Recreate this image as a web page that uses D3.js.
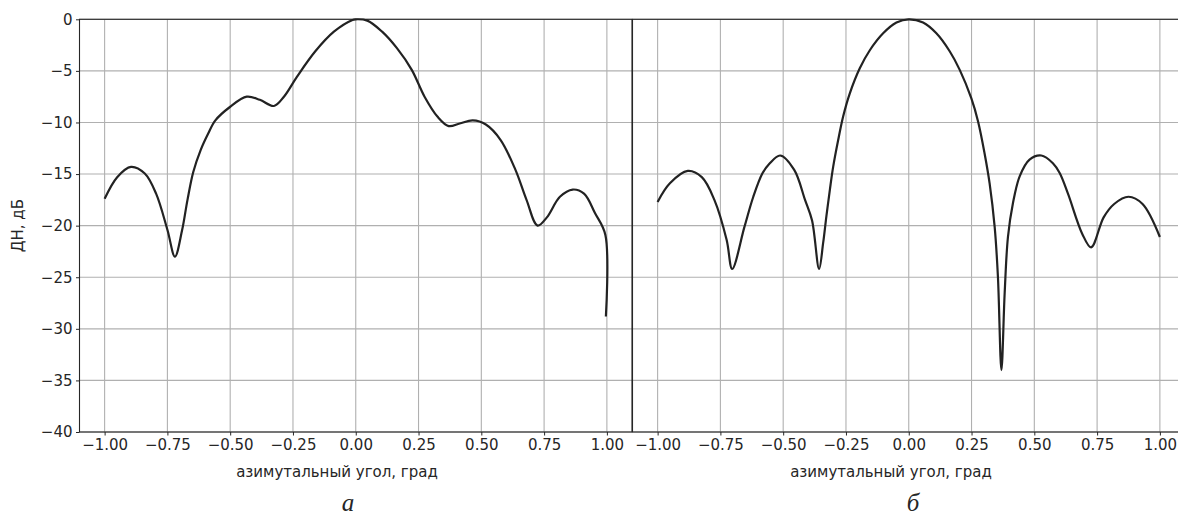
<!DOCTYPE html>
<html>
<head>
<meta charset="utf-8">
<script src="https://cdn.jsdelivr.net/npm/d3@7"></script>
<style>
  html, body { margin: 0; padding: 0; background: #fff; }
  svg { display: block; }
  text { font-family: "DejaVu Sans", sans-serif; fill: #262626; }
</style>
</head>
<body>
<svg id="chart" width="1178" height="516"></svg>
<script>
// ---------- data ----------
const xTicks = [-1.0, -0.75, -0.5, -0.25, 0.0, 0.25, 0.5, 0.75, 1.0];
const yTicks = [0, -5, -10, -15, -20, -25, -30, -35, -40];
const xLabel = "азимутальный угол, град";
const yLabel = "ДН, дБ";
const captions = ["а", "б"];

const leftX = [-1.0, -0.95, -0.895, -0.84, -0.795, -0.75, -0.72, -0.692, -0.67, -0.647, -0.618, -0.588, -0.559, -0.501, -0.434, -0.382, -0.326, -0.286, -0.235, -0.161, -0.087, -0.013, 0.0, 0.046, 0.105, 0.164, 0.223, 0.274, 0.326, 0.37, 0.414, 0.466, 0.518, 0.577, 0.636, 0.68, 0.724, 0.761, 0.813, 0.864, 0.909, 0.953, 0.994, 0.996];
const leftY = [-17.4, -15.3, -14.3, -14.95, -16.9, -20.4, -23.0, -20.5, -17.5, -14.8, -12.7, -11.1, -9.8, -8.5, -7.5, -7.8, -8.4, -7.5, -5.6, -3.1, -1.2, -0.06, 0.0, -0.13, -1.2, -2.8, -4.9, -7.5, -9.45, -10.35, -10.1, -9.8, -10.2, -11.7, -14.6, -17.5, -20.0, -19.2, -17.2, -16.5, -16.9, -18.8, -20.9, -28.8];

const rightX = [-1.0, -0.951, -0.88, -0.824, -0.774, -0.725, -0.703, -0.654, -0.619, -0.583, -0.555, -0.512, -0.456, -0.413, -0.385, -0.357, -0.341, -0.328, -0.314, -0.301, -0.281, -0.261, -0.235, -0.195, -0.155, -0.102, -0.049, 0.0, 0.057, 0.11, 0.163, 0.203, 0.249, 0.276, 0.302, 0.322, 0.342, 0.355, 0.369, 0.382, 0.395, 0.415, 0.442, 0.481, 0.528, 0.574, 0.601, 0.634, 0.691, 0.726, 0.776, 0.818, 0.875, 0.931, 1.0];
const rightY = [-17.7, -15.9, -14.7, -15.3, -17.5, -21.4, -24.2, -20.1, -17.2, -14.95, -14.0, -13.2, -14.6, -17.5, -19.5, -24.2, -21.7, -19.1, -16.5, -14.3, -11.7, -9.4, -7.2, -4.75, -3.0, -1.36, -0.32, 0.0, -0.32, -1.36, -3.1, -4.9, -7.65, -9.9, -13.0, -15.9, -20.1, -24.9, -34.0, -26.5, -21.1, -17.8, -15.2, -13.6, -13.2, -13.95, -14.9, -16.9, -20.8, -22.1, -19.2, -17.9, -17.2, -17.9, -21.1];

// ---------- layout ----------
const svg = d3.select("#chart");
const yTop = 19.3, yBottom = 432;
const fontSize = "15px";
const panels = [
  { x0: 79.5, x1: 632, xs: leftX, ys: leftY, showY: true, labelX: 337, capX: 348 },
  { x0: 632.5, x1: 1185, xs: rightX, ys: rightY, showY: false, labelX: 891, capX: 913 }
];

const y = d3.scaleLinear().domain([-40, 0]).range([yBottom, yTop]);

panels.forEach((p, i) => {
  const x = d3.scaleLinear().domain([-1.1, 1.1]).range([p.x0, p.x1]);
  const g = svg.append("g");

  // grid
  g.append("g").selectAll("line").data(xTicks).join("line")
    .attr("x1", d => x(d)).attr("x2", d => x(d))
    .attr("y1", yTop).attr("y2", yBottom)
    .attr("stroke", "#b0b0b0").attr("stroke-width", 1.1);
  g.append("g").selectAll("line").data(yTicks).join("line")
    .attr("x1", p.x0).attr("x2", p.x1)
    .attr("y1", d => y(d)).attr("y2", d => y(d))
    .attr("stroke", "#b0b0b0").attr("stroke-width", 1.1);

  // x axis
  const xa = g.append("g").attr("transform", `translate(0,${yBottom})`)
    .call(d3.axisBottom(x).tickValues(xTicks).tickFormat(d3.format(".2f")).tickSize(3.5).tickPadding(3.5));
  xa.select(".domain").remove();
  xa.selectAll(".tick line").attr("stroke", "#262626").attr("stroke-width", 1);
  xa.selectAll(".tick text").style("font-size", fontSize).style("font-family", "DejaVu Sans").attr("fill", "#262626");

  if (p.showY) {
    const ya = g.append("g").attr("transform", `translate(${p.x0},0)`)
      .call(d3.axisLeft(y).tickValues(yTicks).tickFormat(d3.format("d")).tickSize(3.5).tickPadding(3.5));
    ya.select(".domain").remove();
    ya.selectAll(".tick line").attr("stroke", "#262626").attr("stroke-width", 1);
    ya.selectAll(".tick text").style("font-size", fontSize).style("font-family", "DejaVu Sans").attr("fill", "#262626");
  }

  // spines
  g.append("rect").attr("x", p.x0).attr("y", yTop)
    .attr("width", p.x1 - p.x0).attr("height", yBottom - yTop)
    .attr("fill", "none").attr("stroke", "#262626").attr("stroke-width", 1.1);

  // curve
  const pts = p.xs.map((v, k) => [v, p.ys[k]]);
  const line = d3.line().x(d => x(d[0])).y(d => y(d[1])).curve(d3.curveCatmullRom.alpha(0.5));
  g.append("path").datum(pts).attr("d", line)
    .attr("fill", "none").attr("stroke", "#222").attr("stroke-width", 2.2)
    .attr("stroke-linejoin", "round").attr("stroke-linecap", "butt");

  // x label
  g.append("text").attr("x", p.labelX).attr("y", 477)
    .attr("text-anchor", "middle").style("font-size", fontSize).text(xLabel);

  // caption
  g.append("text").attr("x", p.capX).attr("y", 511)
    .attr("text-anchor", "middle")
    .style("font-family", "'Liberation Serif', 'Times New Roman', serif")
    .style("font-style", "italic").style("font-size", "25px").attr("fill", "#111")
    .text(captions[i]);
});

// y label
svg.append("text")
  .attr("transform", `translate(23,${(yTop + yBottom) / 2}) rotate(-90)`)
  .attr("text-anchor", "middle").style("font-size", fontSize).text(yLabel);
</script>
</body>
</html>
